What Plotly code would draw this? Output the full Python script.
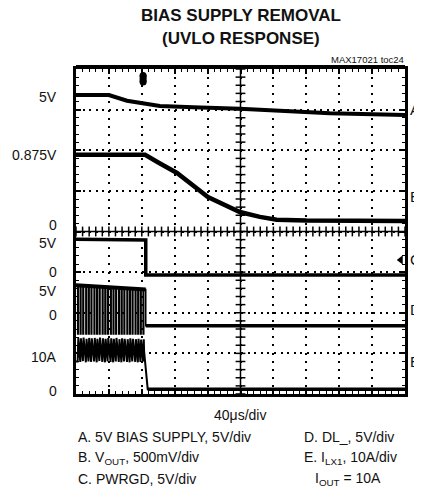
import plotly.graph_objects as go
import numpy as np

# ---- data (x in divisions 0..10, y in divisions 0..8) ----
a_t = [0, 1.0, 1.55, 2.55, 3.56, 4.98, 7.72, 10]
a_v = [7.36, 7.36, 7.22, 7.09, 7.06, 7.02, 6.91, 6.87]

b_t = [0, 2.1, 2.5, 3.07, 4.01, 4.98, 5.59, 6.1, 7.0, 10]
b_v = [5.89, 5.89, 5.70, 5.44, 4.85, 4.48, 4.36, 4.29, 4.27, 4.26]

c_t = [0, 2.12, 2.12, 10]
c_v = [3.81, 3.79, 2.93, 2.93]

sw_t = [0.05, 0.13, 0.21, 0.30, 0.38, 0.46, 0.55, 0.63, 0.71, 0.80, 0.88, 0.96, 1.05,
        1.13, 1.21, 1.30, 1.38, 1.46, 1.55, 1.63, 1.71, 1.80, 1.88, 1.96, 2.04]
d_high = [2.68, 2.68, 2.67, 2.67, 2.67, 2.66, 2.66, 2.66, 2.65, 2.65, 2.64, 2.64, 2.63,
          2.63, 2.62, 2.62, 2.61, 2.61, 2.60, 2.60, 2.59, 2.59, 2.58, 2.58, 2.57]
d_low_sw = 1.48
d_t_after = [2.12, 10]
d_v_after = [1.68, 1.68]

e_peak = [1.38, 1.37, 1.39, 1.36, 1.38, 1.37, 1.38, 1.36, 1.39, 1.37, 1.36, 1.38, 1.37,
          1.36, 1.38, 1.35, 1.37, 1.36, 1.35, 1.37, 1.36, 1.35, 1.36, 1.34, 1.35]
e_valley = [0.80, 0.79, 0.81, 0.78, 0.80, 0.79, 0.80, 0.78, 0.81, 0.79, 0.78, 0.80, 0.79,
            0.78, 0.80, 0.79, 0.78, 0.80, 0.79, 0.78, 0.80, 0.79, 0.78, 0.79, 0.80]
e_t_after = [2.07, 2.18, 10]
e_v_after = [1.05, 0.12, 0.12]

trig_x = 2.04
trig_y = 7.76
gnd_marker = (9.87, 3.30)

left_labels = ["5V", "0.875V", "0", "5V", "0", "5V", "0", "10A", "0"]
left_label_y = [7.32, 5.89, 4.16, 3.72, 3.0, 2.54, 1.95, 0.91, 0.07]
right_labels = ["A", "B", "C", "D", "E"]
right_label_y = [7.0, 4.85, 3.30, 2.07, 0.79]

FONT = "Liberation Sans, Arial, sans-serif"

# ---- build switching waveforms from the read edges ----
dx, dy = [0], [d_high[0]]
for t, h in zip(sw_t, d_high):
    dx += [t, t, t + 0.02, t + 0.02]
    dy += [h, d_low_sw, d_low_sw, h]
dx += [2.12, 2.12] + d_t_after
dy += [d_high[-1], d_v_after[0]] + d_v_after

ex, ey = [0], [e_valley[0]]
for t, p, v in zip(sw_t, e_peak, e_valley):
    ex += [t, t + 0.02]
    ey += [v, p]
ex += e_t_after
ey += e_v_after

fig = go.Figure()
fig.add_trace(go.Scatter(x=a_t, y=a_v, mode="lines", line=dict(color="black", width=4)))
fig.add_trace(go.Scatter(x=b_t, y=b_v, mode="lines", line=dict(color="black", width=4.5)))
fig.add_trace(go.Scatter(x=c_t, y=c_v, mode="lines", line=dict(color="black", width=3.5)))
fig.add_trace(go.Scatter(x=dx, y=dy, mode="lines", line=dict(color="black", width=1.5)))
fig.add_trace(go.Scatter(x=d_t_after, y=d_v_after, mode="lines", line=dict(color="black", width=3.5)))
fig.add_trace(go.Scatter(x=[0, 2.12], y=[d_high[0], d_high[-1]], mode="lines",
                         line=dict(color="black", width=4)))
fig.add_trace(go.Scatter(x=ex, y=ey, mode="lines", line=dict(color="black", width=2)))
fig.add_trace(go.Scatter(x=e_t_after[1:], y=e_v_after[1:], mode="lines",
                         line=dict(color="black", width=3.5)))

# graticule centre-line ticks
tk = np.arange(0, 10.01, 0.2)
fig.add_trace(go.Scatter(x=tk, y=[4] * len(tk), mode="markers",
                         marker=dict(symbol="line-ns", size=7, line=dict(width=1.5, color="black"))))
tky = np.arange(0, 8.01, 0.2)
fig.add_trace(go.Scatter(x=[5] * len(tky), y=tky, mode="markers",
                         marker=dict(symbol="line-ew", size=7, line=dict(width=1.5, color="black"))))

# trigger marker & ground marker
fig.add_trace(go.Scatter(x=[trig_x, trig_x], y=[trig_y - 0.08, trig_y + 0.08], mode="markers",
                         marker=dict(symbol="circle", size=7, color="black")))
fig.add_trace(go.Scatter(x=[trig_x], y=[trig_y], mode="markers",
                         marker=dict(symbol="square", size=7, color="black")))
fig.add_trace(go.Scatter(x=[gnd_marker[0]], y=[gnd_marker[1]], mode="markers",
                         marker=dict(symbol="triangle-left", size=8, color="black")))

fig.add_shape(type="line", xref="x", yref="y", x0=5, x1=5, y0=0, y1=8,
              line=dict(color="black", width=1.5))
fig.add_shape(type="line", xref="x", yref="y", x0=0, x1=10, y0=4, y1=4,
              line=dict(color="black", width=1.5))
fig.add_shape(type="line", xref="paper", yref="paper", x0=0, x1=1, y0=1.006, y1=1.006,
              line=dict(color="black", width=4))

ann = []
for txt, y in zip(left_labels, left_label_y):
    ann.append(dict(text=txt, x=-0.052, xref="paper", y=y, yref="y", xanchor="right",
                    yanchor="middle", showarrow=False, font=dict(size=14, family=FONT, color="#111")))
for txt, y in zip(right_labels, right_label_y):
    ann.append(dict(text=txt, x=1.008, xref="paper", y=y, yref="y", xanchor="left",
                    yanchor="middle", showarrow=False, font=dict(size=15, family=FONT, color="#111")))

def pa(text, x, y, size, xanchor="left", bold=False):
    t = f"<b>{text}</b>" if bold else text
    ann.append(dict(text=t, x=x, y=y, xref="paper", yref="paper", xanchor=xanchor,
                    yanchor="middle", showarrow=False,
                    font=dict(size=size, family=FONT, color="#111")))

pa("BIAS SUPPLY REMOVAL", 0.5, 1.166, 17, "center", True)
pa("(UVLO RESPONSE)", 0.5, 1.095, 17, "center", True)
pa("MAX17021 toc24", 1.003, 1.028, 9.5, "right")
pa("40μs/div", 0.498, -0.0646, 14, "center")
pa("A. 5V BIAS SUPPLY, 5V/div", 0.0, -0.132, 14)
pa("B. V<sub>OUT</sub>, 500mV/div", 0.0, -0.197, 14)
pa("C. PWRGD, 5V/div", 0.0, -0.262, 14)
pa("D. DL_, 5V/div", 0.687, -0.132, 14)
pa("E. I<sub>LX1</sub>, 10A/div", 0.687, -0.197, 14)
pa("I<sub>OUT</sub> = 10A", 0.72, -0.262, 14)

axis_common = dict(showticklabels=False, ticks="inside", ticklen=5, tickwidth=1.5,
                   tickcolor="black", showline=True, linecolor="black", linewidth=3,
                   mirror="allticks", zeroline=False, gridcolor="black", gridwidth=1.5,
                   fixedrange=True)
fig.update_xaxes(range=[0, 10], dtick=1, tick0=0, griddash="2px,6.1px",
                 minor=dict(ticks="inside", dtick=0.2, ticklen=3, tickwidth=1.2, tickcolor="black",
                            showgrid=False),
                 **axis_common)
fig.update_yaxes(range=[0, 8], dtick=1, tick0=0, griddash="2px,4.6px",
                 minor=dict(ticks="inside", dtick=0.2, ticklen=3, tickwidth=1.2, tickcolor="black",
                            showgrid=False),
                 **axis_common)

# the page body adds an 8px margin, so the figure is 8px smaller and margins shifted by 8px
fig.update_layout(width=414, height=484, margin=dict(l=68, r=17, t=61, b=98),
                  paper_bgcolor="white", plot_bgcolor="white", showlegend=False,
                  annotations=ann)
fig.write_html("out.html")
